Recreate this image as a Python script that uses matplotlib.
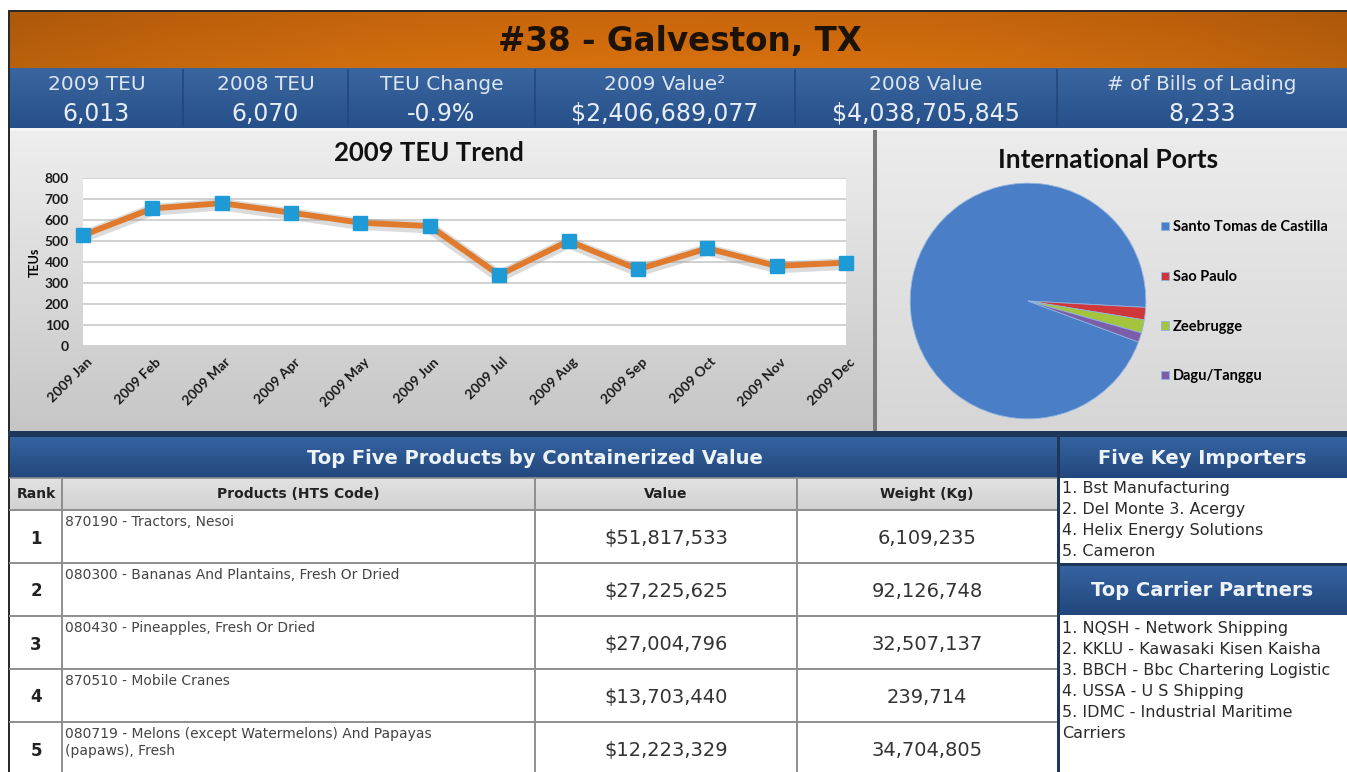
import matplotlib
matplotlib.use('agg')
import matplotlib.pyplot as plt
import matplotlib.patheffects as pe
from matplotlib.patches import Rectangle
from matplotlib.transforms import ScaledTranslation
from matplotlib.colors import to_rgb
import numpy as np

W, H = 1347, 772

# ---- data ----
title = '#38 - Galveston, TX'
stat_labels = ['2009 TEU', '2008 TEU', 'TEU Change', '2009 Value\u00b2', '2008 Value', '# of Bills of Lading']
stat_values = ['6,013', '6,070', '-0.9%', '$2,406,689,077', '$4,038,705,845', '8,233']

months = ['2009 Jan', '2009 Feb', '2009 Mar', '2009 Apr', '2009 May', '2009 Jun',
          '2009 Jul', '2009 Aug', '2009 Sep', '2009 Oct', '2009 Nov', '2009 Dec']
teu = [527, 655, 680, 635, 587, 571, 338, 500, 365, 465, 381, 397]
teu_ticks = [0, 100, 200, 300, 400, 500, 600, 700, 800]

ports = ['Santo Tomas de Castilla', 'Sao Paulo', 'Zeebrugge', 'Dagu/Tanggu']
port_share = [95.2, 1.7, 1.8, 1.3]
port_colors = ['#4a7fc8', '#d0373b', '#a3c43d', '#7b5ea7']

table_cols = ['Rank', 'Products (HTS Code)', 'Value', 'Weight (Kg)']
ranks = ['1', '2', '3', '4', '5']
products = ['870190 - Tractors, Nesoi',
            '080300 - Bananas And Plantains, Fresh Or Dried',
            '080430 - Pineapples, Fresh Or Dried',
            '870510 - Mobile Cranes',
            '080719 - Melons (except Watermelons) And Papayas\n(papaws), Fresh']
values = ['$51,817,533', '$27,225,625', '$27,004,796', '$13,703,440', '$12,223,329']
weights = ['6,109,235', '92,126,748', '32,507,137', '239,714', '34,704,805']

importers = ['1. Bst Manufacturing', '2. Del Monte 3. Acergy',
             '4. Helix Energy Solutions', '5. Cameron']
carriers = ['1. NQSH - Network Shipping', '2. KKLU - Kawasaki Kisen Kaisha',
            '3. BBCH - Bbc Chartering Logistic', '4. USSA - U S Shipping',
            '5. IDMC - Industrial Maritime', 'Carriers']


def fbox(x0, y0, x1, y1):
    return [x0 / W, 1 - y1 / H, (x1 - x0) / W, (y1 - y0) / H]


def shade(ax, x0, y0, x1, y1, top, bottom, edge=0.0, z=1):
    # vertical gradient, optionally darker at left/right edges
    t = np.linspace(0, 1, 64)[:, None, None]
    u = np.linspace(-1, 1, 256)[None, :, None]
    c = np.array(to_rgb(top)) * (1 - t) + np.array(to_rgb(bottom)) * t
    c = c * (1 - edge * u ** 2)
    ax.imshow(np.clip(c, 0, 1), extent=(x0, x1, y1, y0), aspect='auto',
              interpolation='bicubic', zorder=z)


fig = plt.figure(figsize=(W / 100, H / 100), dpi=100)
fig.patch.set_facecolor('white')
bg = fig.add_axes([0, 0, 1, 1])
bg.axis('off')

# outer frame
bg.add_patch(Rectangle((8, 10), W - 8, H - 10, facecolor='#2a2a2a', zorder=0))

# title bar
shade(bg, 10, 12, W, 68, '#c9660c', '#d7710f', edge=0.14)
bg.text(680, 41, title, ha='center', va='center', fontsize=23.5, fontweight='bold',
        color='#1c1208', zorder=5)

# stats bar
col_edges = [10, 183, 348, 535, 795, 1057, W]
shade(bg, 10, 68, W, 128, '#3a66a0', '#27508a', z=1)
for i in range(len(stat_labels)):
    cx = (col_edges[i] + col_edges[i + 1]) / 2
    if i > 0:
        bg.plot([col_edges[i]] * 2, [70, 126], color='#23477c', lw=1.2, zorder=3)
    bg.text(cx, 85, stat_labels[i], ha='center', va='center', fontsize=14.5,
            color='#dce6f2', zorder=5)
    bg.text(cx, 114, stat_values[i], ha='center', va='center', fontsize=17,
            color='#e6edf6', zorder=5)

# chart panels
shade(bg, 10, 130, 873, 432, '#eeeeee', '#c6c6c6', z=1)
shade(bg, 877, 130, W, 432, '#ececec', '#d6d6d6', z=1)
bg.add_patch(Rectangle((10, 128), W - 10, 3, facecolor='#f4f4f4', zorder=2))
bg.add_patch(Rectangle((873, 130), 4, 302, facecolor='#7a7a7a', zorder=2))
bg.add_patch(Rectangle((8, 431), W - 8, 6, facecolor='#1e3658', zorder=2))

bg.text(429, 153, '2009 TEU Trend', ha='center', va='center', fontsize=18.5,
        fontweight='bold', family='Lato', color='#111111', zorder=5)
bg.text(1108, 160, 'International Ports', ha='center', va='center', fontsize=19,
        fontweight='bold', family='Lato', color='#111111', zorder=5)

# line chart
ax = fig.add_axes(fbox(83, 178, 846, 346))
ax.set_facecolor('white')
x = np.arange(len(months))
ax.plot(x, teu, color='#e07a2c', lw=4.2, zorder=3, solid_joinstyle='round',
        path_effects=[pe.SimpleLineShadow(offset=(0, -1), shadow_color='#9a9a9a',
                                          alpha=0.35, linewidth=8.5), pe.Normal()])
ax.plot(x, teu, ls='none', marker='s', ms=9.5, color='#1e9ad6', zorder=4, clip_on=False)
ax.set_xlim(0, len(months) - 1)
ax.set_ylim(0, 800)
ax.set_yticks(teu_ticks)
ax.yaxis.grid(True, color='#c9c9c9', lw=1.2)
ax.set_axisbelow(True)
for s in ax.spines.values():
    s.set_visible(False)
ax.tick_params(length=0, labelsize=10)
ax.tick_params(axis='y', pad=10)
ax.tick_params(axis='x', pad=7)
ax.set_xticks(x)
ax.set_xticklabels(months, rotation=45, ha='right', rotation_mode='anchor')
off = ScaledTranslation(2 / 72, 0, fig.dpi_scale_trans)
for lab in ax.get_xticklabels():
    lab.set_transform(lab.get_transform() + off)
for lab in ax.get_xticklabels() + ax.get_yticklabels():
    lab.set_fontweight('bold')
    lab.set_family('Lato')
    lab.set_color('#1a1a1a')
ax.set_ylabel('TEUs', fontsize=9, fontweight='bold', family='Lato', labelpad=3)

# pie chart
pax = fig.add_axes(fbox(909, 182, 1147, 420))
wedges, _ = pax.pie(port_share, colors=port_colors, startangle=339.6, counterclock=False,
                    wedgeprops=dict(edgecolor='#8fb3e0', linewidth=0.6))
pax.set_xlim(-1.01, 1.01)
pax.set_ylim(-1.01, 1.01)
pax.set_aspect('equal')
leg = pax.legend(wedges, ports, loc='upper left', bbox_to_anchor=(1154 / W, 1 - 213 / H),
                 bbox_transform=fig.transFigure, frameon=False, labelspacing=2.45,
                 handlelength=0.5, handleheight=0.5, handletextpad=0.3, borderpad=0,
                 prop=dict(family='Lato', weight='bold', size=10.5))

# products table
tx = [10, 62, 535, 797, 1057]
shade(bg, 10, 437, 1057, 478, '#3563a0', '#22477d', z=1)
bg.text(535, 458, 'Top Five Products by Containerized Value', ha='center', va='center',
        fontsize=14, fontweight='bold', color='#eef3fa', zorder=5)
shade(bg, 10, 478, 1057, 510, '#e2e2e2', '#d2d2d2', z=1)
for j, c in enumerate(table_cols):
    bg.text((tx[j] + tx[j + 1]) / 2, 494, c, ha='center', va='center', fontsize=10,
            fontweight='bold', color='#222222', zorder=5)
row_top = 510
row_h = 53
bg.add_patch(Rectangle((10, row_top), 1047, H - row_top, facecolor='white', zorder=1))
for i in range(len(ranks)):
    y0 = row_top + i * row_h
    ym = y0 + row_h / 2 + 2
    bg.plot([10, 1057], [y0, y0], color='#8e8e8e', lw=1.4, zorder=3)
    bg.text(36, ym, ranks[i], ha='center', va='center', fontsize=12,
            fontweight='bold', color='#222222', zorder=5)
    bg.text(65, y0 + 5, products[i], ha='left', va='top', fontsize=10,
            color='#444444', linespacing=1.25, zorder=5)
    bg.text((tx[2] + tx[3]) / 2, ym, values[i], ha='center', va='center',
            fontsize=14, color='#333333', zorder=5)
    bg.text((tx[3] + tx[4]) / 2, ym, weights[i], ha='center', va='center',
            fontsize=14, color='#333333', zorder=5)
for xv in tx[1:4]:
    bg.plot([xv, xv], [478, H], color='#8e8e8e', lw=1.4, zorder=3)
bg.plot([10, 1057], [478, 478], color='#8e8e8e', lw=1.2, zorder=3)

# right panels
bg.add_patch(Rectangle((1057, 437), 3, H - 437, facecolor='#1e3658', zorder=3))
shade(bg, 1060, 437, W, 478, '#3563a0', '#22477d', z=1)
bg.text(1202, 458, 'Five Key Importers', ha='center', va='center', fontsize=14,
        fontweight='bold', color='#eef3fa', zorder=5)
bg.add_patch(Rectangle((1060, 478), W - 1060, 85, facecolor='white', zorder=1))
for i, t in enumerate(importers):
    bg.text(1062, 489 + i * 20.7, t, ha='left', va='center', fontsize=11.5,
            color='#2a2a2a', zorder=5)
bg.add_patch(Rectangle((1060, 563), W - 1060, 3, facecolor='#1e3658', zorder=2))
shade(bg, 1060, 566, W, 615, '#3563a0', '#22477d', z=1)
bg.text(1202, 591, 'Top Carrier Partners', ha='center', va='center', fontsize=14,
        fontweight='bold', color='#eef3fa', zorder=5)
bg.add_patch(Rectangle((1060, 615), W - 1060, H - 615, facecolor='white', zorder=1))
for i, t in enumerate(carriers):
    bg.text(1062, 629 + i * 20.8, t, ha='left', va='center', fontsize=11.5,
            color='#2a2a2a', zorder=5)

bg.set_xlim(0, W)
bg.set_ylim(H, 0)

fig.savefig('out.png', dpi=100)
